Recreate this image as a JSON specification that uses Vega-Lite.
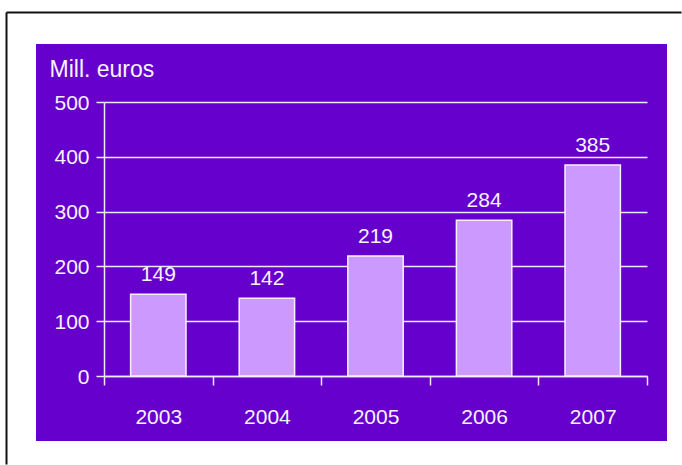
{
  "$schema": "https://vega.github.io/schema/vega-lite/v6.json",
  "width": 631,
  "height": 397,
  "padding": {"left": 6, "top": 12, "right": 0, "bottom": 0},
  "background": "white",
  "data": {"values": [
    {"year": "2003", "value": 149},
    {"year": "2004", "value": 142},
    {"year": "2005", "value": 219},
    {"year": "2006", "value": 284},
    {"year": "2007", "value": 385}
  ]},
  "layer": [
    {
      "encoding": {
        "x": {
          "field": "year", "type": "ordinal",
          "scale": {"range": [68, 611], "paddingInner": 0, "paddingOuter": 0},
          "axis": {
            "orient": "bottom", "offset": -65, "tickBand": "extent",
            "tickSize": 9, "tickColor": "#F2EAFF", "tickWidth": 1.5,
            "domainColor": "#F2EAFF", "domainWidth": 1.5,
            "labelAngle": 0, "labelFontSize": 21, "labelColor": "#F7F2FF",
            "labelFont": "Liberation Sans, Arial, sans-serif",
            "labelBaseline": "alphabetic", "labelPadding": 38,
            "title": null, "grid": false
          }
        },
        "y": {
          "field": "value", "type": "quantitative",
          "scale": {"domain": [0, 500], "range": [332, 58], "nice": false},
          "axis": {
            "orient": "left", "offset": -68,
            "values": [0, 100, 200, 300, 400, 500],
            "grid": true, "gridColor": "#F2EAFF", "gridWidth": 1.5,
            "domainColor": "#F2EAFF", "domainWidth": 1.5,
            "tickColor": "#F2EAFF", "tickWidth": 1.5, "tickSize": 8,
            "labelPadding": 7, "labelFontSize": 21, "labelColor": "#F7F2FF",
            "labelFont": "Liberation Sans, Arial, sans-serif",
            "labelBaseline": "middle", "labelOffset": 1,
            "title": "Mill. euros", "titleX": -55, "titleY": 32, "titleAngle": 0,
            "titleAlign": "left", "titleBaseline": "alphabetic",
            "titleFontSize": 23, "titleFontWeight": "normal", "titleColor": "#F7F2FF",
            "titleFont": "Liberation Sans, Arial, sans-serif"
          }
        }
      },
      "layer": [
        {"mark": {"type": "bar", "width": {"band": 0.51}, "fill": "#CC99FF", "stroke": "#F7F2FF", "strokeWidth": 1.5}},
        {"mark": {"type": "text", "dy": -13, "baseline": "alphabetic", "fontSize": 21, "color": "#F7F2FF",
                  "font": "Liberation Sans, Arial, sans-serif"},
         "encoding": {"text": {"field": "value", "type": "quantitative"}}}
      ]
    },
    {
      "mark": {"type": "point", "opacity": 0},
      "encoding": {
        "x": {
          "datum": 0.5, "type": "quantitative",
          "scale": {"domain": [0, 1], "range": [-30, 645], "nice": false, "zero": false},
          "axis": {"orient": "top", "offset": 32, "domainColor": "#111111", "domainWidth": 2,
                   "ticks": false, "labels": false, "grid": false, "title": null}
        },
        "y": {
          "datum": 0.5, "type": "quantitative",
          "scale": {"domain": [0, 1], "range": [420, -32], "nice": false, "zero": false},
          "axis": {"orient": "right", "offset": -661, "domainColor": "#111111", "domainWidth": 2,
                   "ticks": false, "labels": false, "grid": false, "title": null}
        }
      }
    }
  ],
  "resolve": {"scale": {"x": "independent", "y": "independent"}},
  "config": {
    "view": {"fill": "#6600CC", "stroke": null}
  }
}
